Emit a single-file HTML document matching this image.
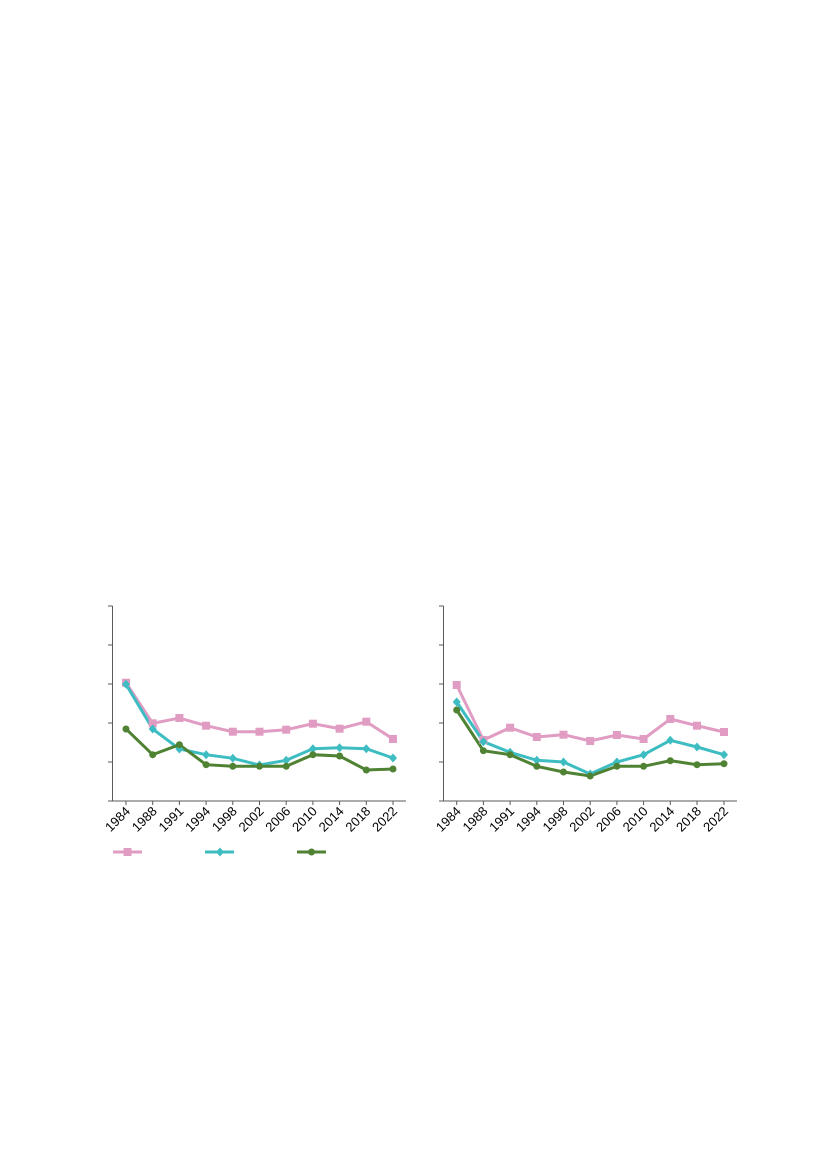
<!DOCTYPE html>
<html><head><meta charset="utf-8"><style>
html,body{margin:0;padding:0;background:#fff}
svg{display:block}
text{font-family:"Liberation Sans",sans-serif;font-size:13px;fill:#000}
</style></head><body>
<svg width="827" height="1169" viewBox="0 0 827 1169" xmlns="http://www.w3.org/2000/svg">
<defs>
<g id="sq"><rect x="-4" y="-4" width="8" height="8" fill="#e09cc2"/></g>
<g id="dm"><polygon points="0,-4.5 4,0 0,4.5 -4,0" fill="#3dbdc2"/></g>
<g id="ci"><circle r="3.5" fill="#4f8233"/></g>
</defs>
<g stroke="#595959" stroke-width="1" fill="none">
<path d="M112.5 606V801H406"/>
<path d="M108 606H112.5M108 645H112.5M108 684H112.5M108 723H112.5M108 762H112.5M108 801H112.5"/>
<path d="M126 801v4M152.7 801v4M179.4 801v4M206.1 801v4M232.8 801v4M259.5 801v4M286.2 801v4M312.9 801v4M339.6 801v4M366.3 801v4M393 801v4"/>
</g>
<polyline fill="none" stroke="#e09cc2" stroke-width="3" points="126,682.7 152.7,723.3 179.4,718 206.1,725.7 232.8,731.7 259.5,731.7 286.2,729.7 312.9,723.7 339.6,728.7 366.3,721.7 393,739"/>
<polyline fill="none" stroke="#3dbdc2" stroke-width="3" points="126,684.3 152.7,729 179.4,749 206.1,754.7 232.8,758.3 259.5,765 286.2,760.3 312.9,748.7 339.6,747.7 366.3,748.7 393,758"/>
<polyline fill="none" stroke="#4f8233" stroke-width="3" points="126,729 152.7,754.7 179.4,744.7 206.1,764.7 232.8,766.3 259.5,766.3 286.2,766.3 312.9,754.7 339.6,756 366.3,770 393,769"/>
<g>
<use href="#sq" x="126" y="682.7"/><use href="#sq" x="152.7" y="723.3"/><use href="#sq" x="179.4" y="718"/><use href="#sq" x="206.1" y="725.7"/><use href="#sq" x="232.8" y="731.7"/><use href="#sq" x="259.5" y="731.7"/><use href="#sq" x="286.2" y="729.7"/><use href="#sq" x="312.9" y="723.7"/><use href="#sq" x="339.6" y="728.7"/><use href="#sq" x="366.3" y="721.7"/><use href="#sq" x="393" y="739"/>
<use href="#dm" x="126" y="684.3"/><use href="#dm" x="152.7" y="729"/><use href="#dm" x="179.4" y="749"/><use href="#dm" x="206.1" y="754.7"/><use href="#dm" x="232.8" y="758.3"/><use href="#dm" x="259.5" y="765"/><use href="#dm" x="286.2" y="760.3"/><use href="#dm" x="312.9" y="748.7"/><use href="#dm" x="339.6" y="747.7"/><use href="#dm" x="366.3" y="748.7"/><use href="#dm" x="393" y="758"/>
<use href="#ci" x="126" y="729"/><use href="#ci" x="152.7" y="754.7"/><use href="#ci" x="179.4" y="744.7"/><use href="#ci" x="206.1" y="764.7"/><use href="#ci" x="232.8" y="766.3"/><use href="#ci" x="259.5" y="766.3"/><use href="#ci" x="286.2" y="766.3"/><use href="#ci" x="312.9" y="754.7"/><use href="#ci" x="339.6" y="756"/><use href="#ci" x="366.3" y="770"/><use href="#ci" x="393" y="769"/>
</g>
<g text-anchor="end">
<text transform="translate(131,812) rotate(-45)">1984</text>
<text transform="translate(157.7,812) rotate(-45)">1988</text>
<text transform="translate(184.4,812) rotate(-45)">1991</text>
<text transform="translate(211.1,812) rotate(-45)">1994</text>
<text transform="translate(237.8,812) rotate(-45)">1998</text>
<text transform="translate(264.5,812) rotate(-45)">2002</text>
<text transform="translate(291.2,812) rotate(-45)">2006</text>
<text transform="translate(317.9,812) rotate(-45)">2010</text>
<text transform="translate(344.6,812) rotate(-45)">2014</text>
<text transform="translate(371.3,812) rotate(-45)">2018</text>
<text transform="translate(398,812) rotate(-45)">2022</text>
</g>
<line x1="113" y1="852" x2="142" y2="852" stroke="#e09cc2" stroke-width="3"/><use href="#sq" x="127.5" y="852"/>
<line x1="205" y1="852" x2="234" y2="852" stroke="#3dbdc2" stroke-width="3"/><use href="#dm" x="220" y="852"/>
<line x1="297" y1="852" x2="326" y2="852" stroke="#4f8233" stroke-width="3"/><use href="#ci" x="311.5" y="852"/>

<g stroke="#595959" stroke-width="1" fill="none">
<path d="M443.5 606V801H737"/>
<path d="M439 606H443.5M439 645H443.5M439 684H443.5M439 723H443.5M439 762H443.5M439 801H443.5"/>
<path d="M456.7 801v4M483.4 801v4M510.1 801v4M536.8 801v4M563.5 801v4M590.2 801v4M616.9 801v4M643.6 801v4M670.3 801v4M697 801v4M724 801v4"/>
</g>
<polyline fill="none" stroke="#e09cc2" stroke-width="3" points="456.7,685 483.4,740 510.1,727.7 536.8,737 563.5,734.7 590.2,741 616.9,735 643.6,739 670.3,719 697,725.7 724,732"/>
<polyline fill="none" stroke="#3dbdc2" stroke-width="3" points="456.7,702 483.4,741.7 510.1,752.3 536.8,760.3 563.5,762 590.2,774 616.9,762 643.6,754.7 670.3,740.3 697,747 724,754.7"/>
<polyline fill="none" stroke="#4f8233" stroke-width="3" points="456.7,710 483.4,750.7 510.1,754.7 536.8,766.3 563.5,772 590.2,776 616.9,766.3 643.6,766.3 670.3,760.7 697,764.7 724,763.7"/>
<g>
<use href="#sq" x="456.7" y="685"/><use href="#sq" x="483.4" y="740"/><use href="#sq" x="510.1" y="727.7"/><use href="#sq" x="536.8" y="737"/><use href="#sq" x="563.5" y="734.7"/><use href="#sq" x="590.2" y="741"/><use href="#sq" x="616.9" y="735"/><use href="#sq" x="643.6" y="739"/><use href="#sq" x="670.3" y="719"/><use href="#sq" x="697" y="725.7"/><use href="#sq" x="724" y="732"/>
<use href="#dm" x="456.7" y="702"/><use href="#dm" x="483.4" y="741.7"/><use href="#dm" x="510.1" y="752.3"/><use href="#dm" x="536.8" y="760.3"/><use href="#dm" x="563.5" y="762"/><use href="#dm" x="590.2" y="774"/><use href="#dm" x="616.9" y="762"/><use href="#dm" x="643.6" y="754.7"/><use href="#dm" x="670.3" y="740.3"/><use href="#dm" x="697" y="747"/><use href="#dm" x="724" y="754.7"/>
<use href="#ci" x="456.7" y="710"/><use href="#ci" x="483.4" y="750.7"/><use href="#ci" x="510.1" y="754.7"/><use href="#ci" x="536.8" y="766.3"/><use href="#ci" x="563.5" y="772"/><use href="#ci" x="590.2" y="776"/><use href="#ci" x="616.9" y="766.3"/><use href="#ci" x="643.6" y="766.3"/><use href="#ci" x="670.3" y="760.7"/><use href="#ci" x="697" y="764.7"/><use href="#ci" x="724" y="763.7"/>
</g>
<g text-anchor="end">
<text transform="translate(461.7,812) rotate(-45)">1984</text>
<text transform="translate(488.4,812) rotate(-45)">1988</text>
<text transform="translate(515.1,812) rotate(-45)">1991</text>
<text transform="translate(541.8,812) rotate(-45)">1994</text>
<text transform="translate(568.5,812) rotate(-45)">1998</text>
<text transform="translate(595.2,812) rotate(-45)">2002</text>
<text transform="translate(621.9,812) rotate(-45)">2006</text>
<text transform="translate(648.6,812) rotate(-45)">2010</text>
<text transform="translate(675.3,812) rotate(-45)">2014</text>
<text transform="translate(702,812) rotate(-45)">2018</text>
<text transform="translate(729,812) rotate(-45)">2022</text>
</g>
</svg>
</body></html>
